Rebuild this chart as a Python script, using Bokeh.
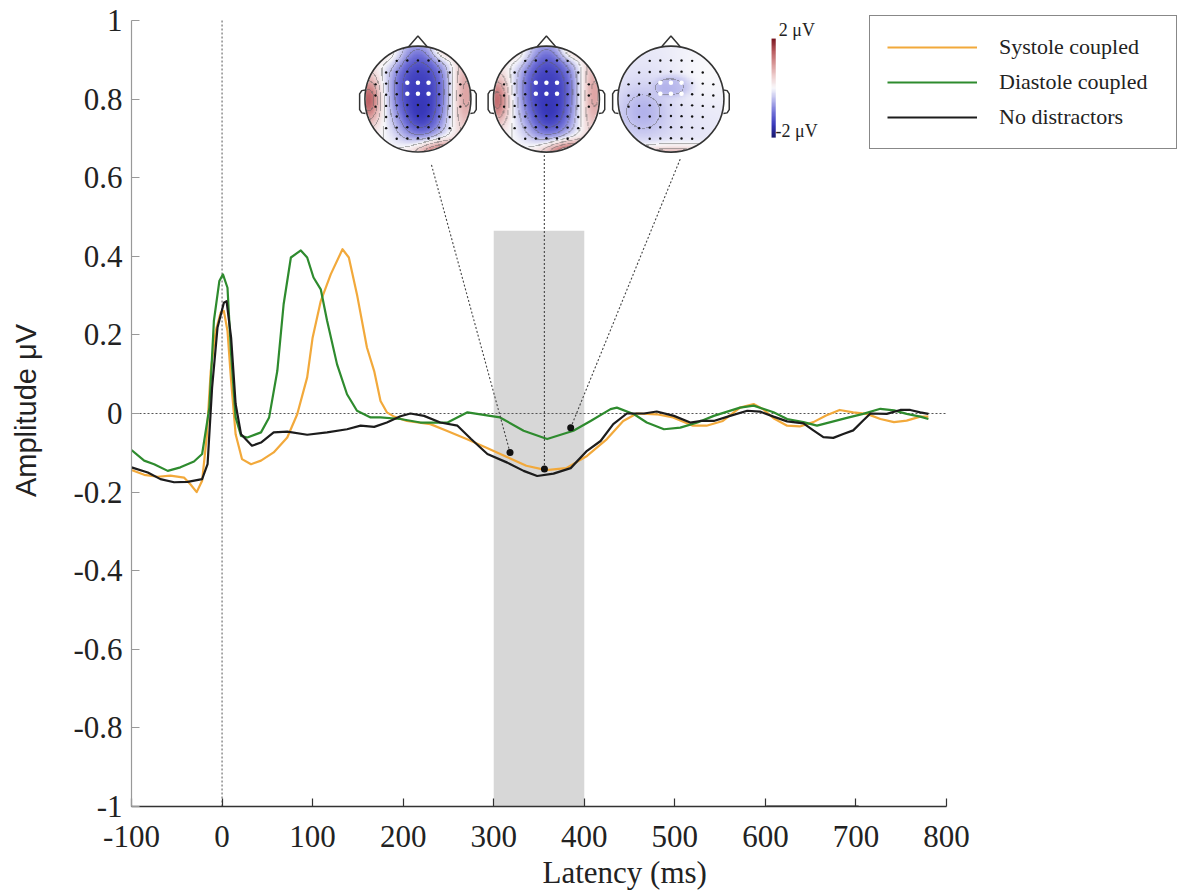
import numpy as np
from bokeh.plotting import figure
from bokeh.models import (Range1d, FixedTicker, NumeralTickFormatter, Legend,
                          LegendItem, Title)
from bokeh.core.properties import value
from bokeh.embed import file_html
from bokeh.resources import INLINE

# ---------------- data ----------------
t_systole = [-100, -86, -71, -57, -42, -35, -28, -22, -17, -12.5,
             -7, -1.5, 2, 6, 10, 15, 22, 32, 43, 57,
             72, 83, 94, 100, 109, 120, 133, 140, 149, 160,
             168, 175, 182, 190, 204, 230, 248, 270, 292, 314,
             336, 358, 380, 403, 425, 443, 458, 480, 498, 520,
             535, 553, 572, 587, 598, 609, 624, 638, 653, 667,
             682, 697, 712, 727, 742, 756, 771, 780]
v_systole = [-0.144, -0.156, -0.161, -0.158, -0.163, -0.18, -0.2, -0.171, -0.061, 0.108,
             0.21, 0.257, 0.261, 0.21, 0.083, -0.053, -0.116, -0.129, -0.12, -0.099,
             -0.061, -0.002, 0.092, 0.193, 0.286, 0.354, 0.418, 0.397, 0.303, 0.168,
             0.108, 0.032, 0.003, -0.008, -0.019, -0.027, -0.044, -0.065, -0.087, -0.11,
             -0.133, -0.144, -0.139, -0.108, -0.065, -0.019, 0.0, -0.002, -0.01, -0.031,
             -0.031, -0.019, 0.015, 0.024, 0.01, -0.012, -0.031, -0.033, -0.022, -0.005,
             0.009, 0.003, -0.001, -0.014, -0.022, -0.018, -0.008, -0.008]

t_diastole = [-100, -86, -75, -60, -46, -31, -22, -14, -9, -3,
              1, 6, 10, 15, 21, 28, 43, 52, 61, 68,
              76, 87, 94, 101, 109, 116, 127, 138, 149, 164,
              175, 197, 219, 249, 271, 296, 307, 333, 359, 388,
              407, 429, 436, 455, 469, 488, 506, 525, 543, 572,
              587, 609, 624, 642, 657, 672, 690, 708, 727, 742,
              756, 771, 780]
v_diastole = [-0.093, -0.12, -0.129, -0.146, -0.137, -0.122, -0.103, 0.015, 0.236, 0.337,
              0.354, 0.32, 0.15, -0.01, -0.057, -0.061, -0.048, -0.01, 0.108, 0.278,
              0.397, 0.415, 0.397, 0.346, 0.316, 0.236, 0.125, 0.049, 0.007, -0.01,
              -0.01, -0.014, -0.023, -0.023, 0.003, -0.006, -0.01, -0.044, -0.065, -0.044,
              -0.019, 0.011, 0.015, -0.002, -0.023, -0.04, -0.036, -0.023, -0.006, 0.015,
              0.02, 0.003, -0.014, -0.022, -0.031, -0.022, -0.011, -0.001, 0.012, 0.008,
              -0.001, -0.008, -0.014]

t_none = [-100, -82, -68, -53, -38, -22, -16, -11, -5, 2,
          5, 10, 15, 21, 33, 43, 57, 72, 94, 116,
          138, 153, 168, 182, 197, 208, 223, 241, 260, 275,
          293, 315, 333, 348, 366, 385, 403, 418, 432, 447,
          466, 480, 499, 517, 528, 543, 561, 580, 594, 609,
          624, 642, 653, 664, 675, 686, 697, 708, 716, 734,
          749, 760, 771, 780]
v_none = [-0.137, -0.15, -0.167, -0.175, -0.174, -0.167, -0.129, 0.066, 0.219, 0.282,
          0.286, 0.193, 0.024, -0.053, -0.082, -0.074, -0.048, -0.046, -0.054, -0.048,
          -0.04, -0.031, -0.034, -0.023, -0.007, 0.0, -0.006, -0.023, -0.031, -0.065,
          -0.103, -0.125, -0.146, -0.159, -0.153, -0.139, -0.095, -0.07, -0.027, 0.0,
          0.0, 0.005, -0.006, -0.023, -0.019, -0.019, -0.006, 0.007, 0.005, -0.008,
          -0.02, -0.025, -0.043, -0.06, -0.062, -0.052, -0.043, -0.018, 0.0, -0.001,
          0.009, 0.009, 0.003, -0.001]

series_labels = ["Systole coupled", "Diastole coupled", "No distractors"]
series_colors = ["#F2A93B", "#2E8B2E", "#1C1C1C"]

x_ticks = [-100, 0, 100, 200, 300, 400, 500, 600, 700, 800]
y_ticks = [-1, -0.8, -0.6, -0.4, -0.2, 0, 0.2, 0.4, 0.6, 0.8, 1]

window_ms = [300, 400]          # shaded analysis window
window_top = 0.465

topo_latency = [318, 356, 385]  # points where the maps are taken
topo_amplitude = [-0.099, -0.141, -0.036]

cbar_limits = [-2, 2]
cbar_texts = ["2  μV", "-2 μV"]

axis_mark_ms = [601, 703]       # dark stroke on the x axis

# scalp-map sources: (amplitude µV, u, v, spread u, spread v, shape power)
topo_sources = [
    [(-1.45, 0.03, 0.18, 0.45, 0.74, 3.0), (-0.3, 0.12, -0.5, 0.3, 0.3, 2.0),
     (1.45, -0.93, -0.02, 0.16, 0.34, 2.0), (0.9, 0.9, 0.1, 0.18, 0.6, 2.0),
     (1.45, 0.4, -1.0, 0.36, 0.16, 2.0), (0.7, 0.47, 0.92, 0.18, 0.15, 2.0),
     (0.35, -0.5, 0.85, 0.2, 0.16, 2.0)],
    [(-1.45, 0.03, 0.18, 0.45, 0.74, 3.0), (-0.3, 0.12, -0.5, 0.3, 0.3, 2.0),
     (1.35, -0.93, -0.02, 0.16, 0.34, 2.0), (0.9, 0.9, 0.1, 0.18, 0.6, 2.0),
     (1.65, 0.4, -1.0, 0.36, 0.16, 2.0), (0.7, 0.47, 0.92, 0.18, 0.15, 2.0),
     (0.35, -0.5, 0.85, 0.2, 0.16, 2.0)],
    [(-0.2, 0.0, 0.0, 1.2, 1.2, 2.0), (-0.32, 0.05, 0.25, 0.3, 0.17, 4.0),
     (-0.35, -0.55, -0.25, 0.35, 0.35, 2.0), (0.15, 0.6, 0.5, 0.5, 0.5, 2.0),
     (0.85, 0.0, -1.05, 0.6, 0.12, 2.0)],
]

# ---------------- layout constants ----------------
PXX = 815 / 900        # px per ms  (-100..800 spans 815 px)
PXY = 393.0            # px per µV
FW = 1048              # frame reaches the right edge (room for the legend)
FH = 792
X0 = -100
X1 = X0 + FW / PXX
Y0 = -1
Y1 = Y0 + FH / PXY

TOPO_R = 53                         # px
TOPO_CX = [216.3, 358.2, 495.7]     # ms
TOPO_CY = 0.80                      # µV
CONNECT_UV = [(0.25, -1.22), (-0.04, -1.02), (0.18, -1.12)]

p = figure(frame_width=FW, frame_height=FH,
           x_range=Range1d(X0, X1), y_range=Range1d(Y0, Y1),
           output_backend="svg", toolbar_location=None,
           min_border_left=131, min_border_right=0,
           min_border_top=14, min_border_bottom=89)
p.outline_line_color = None
p.xgrid.visible = False
p.ygrid.visible = False
p.background_fill_color = "white"
p.border_fill_color = "white"

SERIF = "Liberation Serif"
SANS = "Liberation Sans"

# axes
xa = p.xaxis[0]
xa.bounds = (x_ticks[0], x_ticks[-1])
xa.ticker = FixedTicker(ticks=x_ticks, minor_ticks=[])
xa.formatter = NumeralTickFormatter(format="0")
xa.major_tick_in = 8
xa.major_tick_out = 0
xa.minor_tick_in = 0
xa.minor_tick_out = 0
xa.axis_line_color = "#333333"
xa.axis_line_width = 1.3
xa.major_tick_line_color = "#333333"
xa.major_tick_line_width = 1.2
xa.major_label_text_font = SERIF
xa.major_label_text_font_size = "31px"
xa.major_label_text_color = "#222222"
xa.major_label_standoff = 19

ya = p.yaxis[0]
ya.bounds = (y_ticks[0], y_ticks[-1])
ya.ticker = FixedTicker(ticks=y_ticks, minor_ticks=[])
ya.formatter = NumeralTickFormatter(format="0.[0]")
ya.major_tick_in = 8
ya.major_tick_out = 0
ya.minor_tick_in = 0
ya.minor_tick_out = 0
ya.axis_line_color = "#999999"
ya.axis_line_width = 1.2
ya.major_tick_line_color = "#999999"
ya.major_label_text_font = SERIF
ya.major_label_text_font_size = "31px"
ya.major_label_text_color = "#222222"
ya.major_label_standoff = 9
ya.axis_label = "Amplitude μV"
ya.axis_label_text_font = SANS
ya.axis_label_text_font_size = "29px"
ya.axis_label_text_font_style = "normal"
ya.axis_label_text_color = "#222222"
ya.axis_label_standoff = 28

p.add_layout(Title(text="Latency (ms)", align="left", offset=411, standoff=7,
                   text_font=SERIF, text_font_size="31px", text_font_style="normal",
                   text_color="#222222"), "below")

# shaded window
p.quad(left=[window_ms[0]], right=[window_ms[1]], bottom=[Y0], top=[window_top],
       fill_color="#d7d7d7", line_color=None)

# zero reference lines
p.line([0, 0], [y_ticks[0], y_ticks[-1]], line_color="#555555", line_dash="2 2", line_width=1)
p.line([x_ticks[0], x_ticks[-1]], [0, 0], line_color="#555555", line_dash="2 2", line_width=1)

# dark stroke on axis
p.line(axis_mark_ms, [Y0, Y0], line_color="#222222", line_width=2.2)

# curves
renderers = []
for tt, vv, col in [(t_systole, v_systole, series_colors[0]),
                    (t_diastole, v_diastole, series_colors[1]),
                    (t_none, v_none, series_colors[2])]:
    r = p.line(tt, vv, line_color=col, line_width=2.2, line_join="round")
    renderers.append(r)

# ---------------- scalp maps ----------------
cm_vals = [-2, -1.5, -1, -0.5, 0, 0.5, 1, 1.5, 2]
cm_rgb = np.array([(25, 25, 110), (58, 58, 188), (112, 112, 215), (182, 182, 236),
                   (250, 250, 252), (238, 206, 206), (216, 150, 150), (186, 92, 96),
                   (122, 22, 32)], dtype=float)


def colorize(F):
    out = np.zeros(F.shape + (3,))
    for c in range(3):
        out[..., c] = np.interp(F, cm_vals, cm_rgb[:, c])
    return out


def pack(rgb, alpha):
    n0, n1 = alpha.shape
    img = np.empty((n0, n1), dtype=np.uint32)
    view = img.view(dtype=np.uint8).reshape((n0, n1, 4))
    view[..., 0] = np.clip(rgb[..., 0], 0, 255).astype(np.uint8)
    view[..., 1] = np.clip(rgb[..., 1], 0, 255).astype(np.uint8)
    view[..., 2] = np.clip(rgb[..., 2], 0, 255).astype(np.uint8)
    view[..., 3] = np.clip(alpha, 0, 255).astype(np.uint8)
    return img


def scalp_image(sources, n=180):
    g = np.linspace(-1, 1, n)
    U, V = np.meshgrid(g, g)
    F = np.zeros_like(U)
    for amp, u0, v0, su, sv, pw in sources:
        r2 = ((U - u0) / su) ** 2 + ((V - v0) / sv) ** 2
        F += amp * np.exp(-0.5 * r2 ** (pw / 2.0))
    Fc = np.clip(F, -2, 2)
    rgb = colorize(Fc)
    d = g[1] - g[0]
    gy, gx = np.gradient(Fc, d, d)
    gm = np.hypot(gx, gy)
    lev = 0.4
    dist = np.abs(Fc - np.round(Fc / lev) * lev) / (gm + 1e-9)
    line = (dist < 0.8 * d) & (np.abs(Fc) < 1.95) & (gm > 0.08)
    rgb[line] = rgb[line] * 0.5 + np.array([95, 95, 95]) * 0.5
    rr = np.sqrt(U ** 2 + V ** 2)
    alpha = np.clip((1.0 - rr) / d, 0, 1) * 255
    return pack(rgb, alpha)


rx = TOPO_R / PXX
ry = TOPO_R / PXY
elec_u, elec_v = [], []
for m in range(-4, 5):
    vv = 0.1 + m * 0.21
    for k in range(-4, 5):
        uu = k * 0.2
        if uu * uu + vv * vv < 0.86 ** 2:
            elec_u.append(uu)
            elec_v.append(vv - 0.05 * uu * uu)
hl_u = [-0.2, 0.0, 0.2, -0.2, 0.0, 0.2]
hl_v = [0.31, 0.31, 0.31, 0.1, 0.1, 0.1]

for i, cx in enumerate(TOPO_CX):
    cy = TOPO_CY
    img = scalp_image(topo_sources[i])
    p.image_rgba(image=[img], x=cx - rx, y=cy - ry, dw=2 * rx, dh=2 * ry)
    p.ellipse(x=[cx], y=[cy], width=2 * rx, height=2 * ry, fill_color=None,
              line_color="#333333", line_width=1.6)
    nose_u = [-0.18, 0.0, 0.18]
    nose_v = [0.984, 1.19, 0.984]
    p.line([cx + u * rx for u in nose_u], [cy + v * ry for v in nose_v],
           line_color="#333333", line_width=1.5)
    for side in (-1, 1):
        ear_u = [0.99, 1.06, 1.1, 1.1, 1.06, 0.99]
        ear_v = [0.17, 0.16, 0.1, -0.2, -0.26, -0.27]
        p.line([cx + side * u * rx for u in ear_u], [cy + v * ry for v in ear_v],
               line_color="#333333", line_width=1.5)
    bu, bv = [], []
    for uu, vv in zip(elec_u, elec_v):
        if any(abs(uu - a) < 1e-6 and abs(vv - b) < 0.02 for a, b in zip(hl_u, hl_v)):
            continue
        bu.append(cx + uu * rx)
        bv.append(cy + vv * ry)
    p.scatter(bu, bv, size=2.4, color="#111111", line_color=None)
    p.scatter([cx + u * rx for u in hl_u], [cy + v * ry for v in hl_v],
              size=4.5, color="white", line_color=None)

# connectors from the curve points to the maps
for i in range(3):
    cu, cv = CONNECT_UV[i]
    p.line([topo_latency[i], TOPO_CX[i] + cu * rx], [topo_amplitude[i], TOPO_CY + cv * ry],
           line_color="#444444", line_dash="2 2", line_width=1.1)
p.scatter(topo_latency, topo_amplitude, size=7, color="#111111", line_color=None)

# colour bar
cb_x = 606.8
cb_w = 4.2 / PXX
cb_y0, cb_y1 = 0.702, 0.954
nb = 120
vals = np.linspace(cbar_limits[0], cbar_limits[1], nb).reshape(nb, 1)
cb_rgb = colorize(np.repeat(vals, 2, axis=1))
p.image_rgba(image=[pack(cb_rgb, np.full((nb, 2), 255.0))], x=cb_x, y=cb_y0,
             dw=cb_w, dh=cb_y1 - cb_y0)
p.text(x=[cb_x + 8.0, cb_x + 4.4], y=[0.977, 0.72], text=cbar_texts,
       text_font=value(SERIF), text_font_size="18px", text_color="#222222",
       text_align="left", text_baseline="middle")

# legend
legend = Legend(items=[LegendItem(label=lab, renderers=[r])
                       for lab, r in zip(series_labels, renderers)],
                location=(738, 657))
legend.label_text_font = SERIF
legend.label_text_font_size = "22px"
legend.label_text_color = "#222222"
legend.glyph_width = 90
legend.glyph_height = 28
legend.label_height = 28
legend.label_width = 160
legend.label_standoff = 22
legend.spacing = 7
legend.padding = 17
legend.margin = 0
legend.border_line_color = "#111111"
legend.border_line_width = 1.4
legend.background_fill_color = "white"
legend.background_fill_alpha = 1.0
p.add_layout(legend)

open("out.html", "w").write(file_html(p, INLINE))
